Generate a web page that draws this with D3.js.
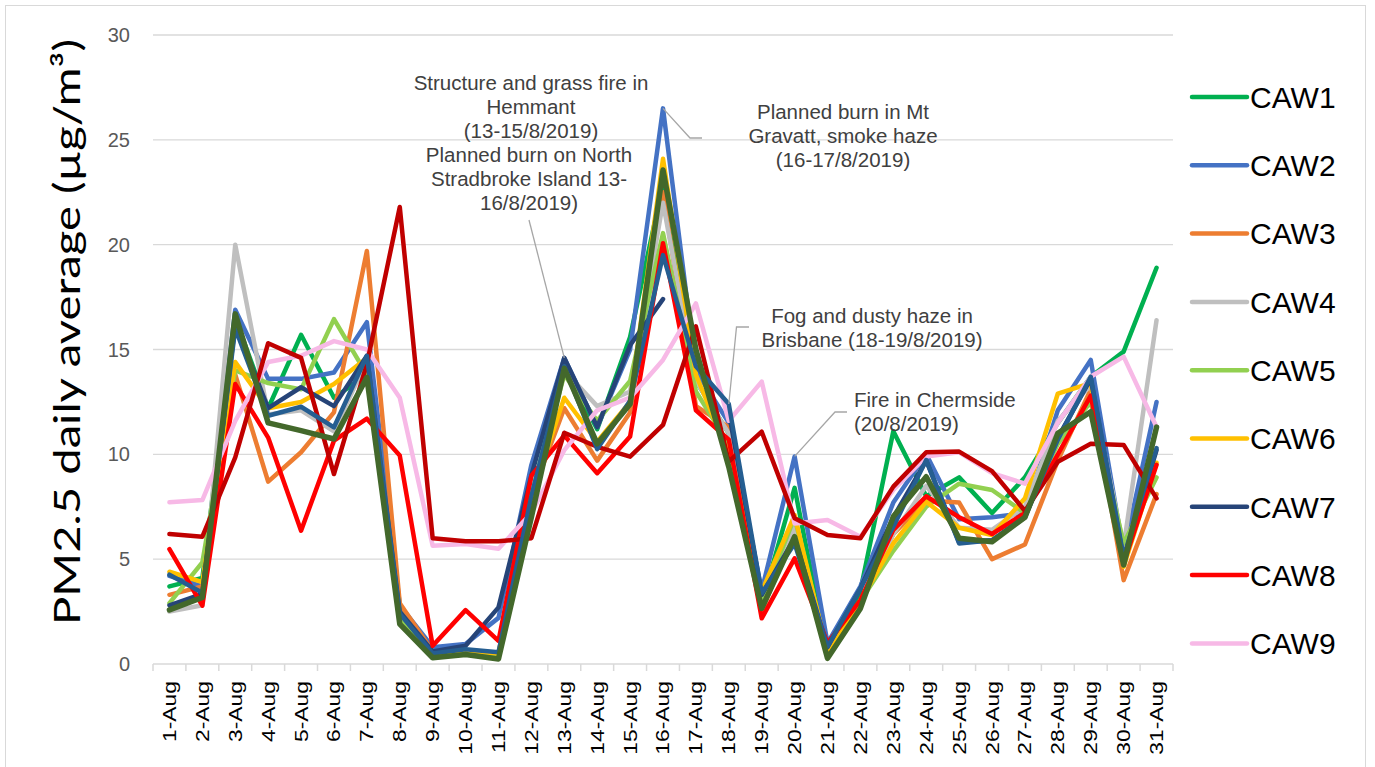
<!DOCTYPE html>
<html>
<head>
<meta charset="utf-8">
<script src="https://cdn.jsdelivr.net/npm/d3@7"></script>
<style>
  html, body { margin: 0; padding: 0; background: #fff; }
  svg { display: block; }
</style>
</head>
<body>
<svg id="chart" width="1375" height="767"></svg>
<script>
// ---------------- DATA ----------------
const days = ["1-Aug","2-Aug","3-Aug","4-Aug","5-Aug","6-Aug","7-Aug","8-Aug","9-Aug","10-Aug",
  "11-Aug","12-Aug","13-Aug","14-Aug","15-Aug","16-Aug","17-Aug","18-Aug","19-Aug","20-Aug",
  "21-Aug","22-Aug","23-Aug","24-Aug","25-Aug","26-Aug","27-Aug","28-Aug","29-Aug","30-Aug","31-Aug"];

const yTicks = [0, 5, 10, 15, 20, 25, 30];

const seriesNames = ["CAW1","CAW2","CAW3","CAW4","CAW5","CAW6","CAW7","CAW8","CAW9","CAW10","CAW11","CAW12"];
const legendNames = ["CAW1","CAW2","CAW3","CAW4","CAW5","CAW6","CAW7","CAW8","CAW9"];

const CAW1 = [3.7,4.1,16.5,12.2,15.7,12.7,13.8,2.0,0.4,0.5,0.4,8.0,14.2,11.2,15.6,22.9,13.5,11.0,2.9,8.4,0.4,3.5,11.1,8.0,8.9,7.2,8.9,11.5,13.7,14.9,18.9];
const CAW2 = [4.2,3.7,16.9,13.6,13.6,13.9,16.3,2.8,0.8,0.95,2.2,9.5,14.6,11.3,15.0,26.5,14.0,11.5,3.5,9.9,1.0,3.7,7.7,10.0,6.9,7.0,7.2,12.1,14.5,5.3,12.5];
const CAW3 = [3.3,3.7,13.8,8.7,10.1,12.0,19.7,2.9,0.6,0.5,0.5,8.0,12.2,9.7,12.0,22.5,12.3,11.3,2.5,6.5,0.6,3.0,6.2,7.8,7.7,5.0,5.7,9.7,13.1,4.0,8.1];
const CAW4 = [2.5,2.8,20.0,11.9,12.1,11.1,14.5,2.2,0.4,0.5,0.4,8.0,14.0,12.3,13.0,22.0,13.5,11.0,3.0,6.5,0.4,3.0,6.2,8.5,6.5,6.4,7.5,11.6,13.3,5.6,16.4];
const CAW5 = [2.9,4.85,14.0,13.4,13.1,16.45,13.8,2.1,0.4,0.5,0.4,8.0,13.8,11.6,13.5,20.55,13.0,10.5,3.0,7.0,0.5,3.0,5.4,7.5,8.6,8.3,7.2,10.5,12.5,5.75,8.9];
const CAW6 = [4.4,3.9,14.4,12.2,12.5,13.35,14.6,2.5,0.5,0.64,0.5,8.0,12.7,10.6,12.5,24.1,13.8,10.0,3.45,7.1,0.5,3.0,5.75,7.74,6.5,6.15,7.9,12.9,13.4,4.64,9.6];
const CAW7 = [2.8,3.34,16.2,12.2,13.2,12.3,14.7,2.5,0.6,0.87,2.7,9.0,14.6,11.3,15.2,17.4,null,12.0,3.3,6.0,0.8,3.6,7.0,9.7,5.8,5.9,7.0,10.8,13.6,5.0,10.2];
const CAW8 = [5.48,2.78,13.35,10.8,6.36,10.65,11.7,9.94,0.87,2.57,1.1,8.98,10.9,9.1,10.85,20.07,12.1,10.7,2.18,5.04,1.0,3.05,6.4,8.0,7.0,6.2,7.2,10.0,12.8,4.8,9.5];
const CAW9 = [7.71,7.82,11.6,14.4,14.7,15.4,15.0,12.7,5.64,5.72,5.5,7.2,10.2,12.1,12.7,14.5,17.2,11.6,13.47,6.7,6.87,6.07,8.3,9.9,10.1,9.1,8.6,11.5,13.7,14.66,11.3];
const CAW10 = [6.2,6.07,9.85,15.3,14.6,9.06,14.3,21.8,6.0,5.85,5.85,6.0,11.03,10.36,9.89,11.4,16.1,9.65,11.08,6.95,6.15,6.0,8.46,10.1,10.13,9.2,7.3,9.65,10.5,10.45,7.9];
const CAW11 = [4.26,3.4,16.0,11.84,12.27,11.29,14.7,2.4,0.5,0.7,0.56,8.0,14.2,10.25,12.56,19.5,14.2,12.4,3.37,5.75,0.83,3.6,6.55,9.73,5.75,5.9,7.0,10.7,13.7,5.1,10.3];
const CAW12 = [2.58,3.18,16.7,11.5,11.13,10.73,13.67,1.9,0.3,0.45,0.24,7.0,14.1,10.5,12.4,23.56,15.0,9.4,2.65,6.07,0.27,2.65,7.03,8.93,6.0,5.83,7.0,11.0,12.03,4.72,11.3];

const seriesValues = [CAW1,CAW2,CAW3,CAW4,CAW5,CAW6,CAW7,CAW8,CAW9,CAW10,CAW11,CAW12];
const seriesColors = ["#00B050","#4472C4","#ED7D31","#BFBFBF","#92D050","#FFC000","#264478","#FF0000","#F7B9E6","#C00000","#255E91","#43682B"];

const annotations = [
  {lines:["Structure and grass fire in","Hemmant","(13-15/8/2019)"], x:531, y:90, anchor:"middle"},
  {lines:["Planned burn on North","Stradbroke Island 13-","16/8/2019)"], x:529, y:161.5, anchor:"middle"},
  {lines:["Planned burn in Mt","Gravatt, smoke haze","(16-17/8/2019)"], x:843, y:119, anchor:"middle"},
  {lines:["Fog and dusty haze in","Brisbane (18-19/8/2019)"], x:872, y:323, anchor:"middle"},
  {lines:["Fire in Chermside","(20/8/2019)"], x:854, y:407, anchor:"start"}
];

// ---------------- CHART ----------------
const svg = d3.select("#chart");
const L = 153, R = 1173, T = 35, B = 664;

svg.append("rect").attr("x",0).attr("y",0).attr("width",1375).attr("height",767).attr("fill","#fff");
svg.append("rect").attr("x",5.5).attr("y",5.5).attr("width",1360).attr("height",800)
  .attr("fill","none").attr("stroke","#D9D9D9").attr("stroke-width",1);

const xBand = d3.scaleBand().domain(days).range([L, R]);
const x = d3.scalePoint().domain(days).range([L, R]).padding(0.5);
const y = d3.scaleLinear().domain([0, 30]).range([B, T]);

// gridlines
svg.append("g").selectAll("line").data(yTicks.filter(d => d > 0)).join("line")
  .attr("x1", L).attr("x2", R).attr("y1", d => y(d)).attr("y2", d => y(d))
  .attr("stroke", "#D9D9D9").attr("stroke-width", 1.3);

// x axis line + ticks at category boundaries
svg.append("line").attr("x1", L).attr("x2", R).attr("y1", y(0)).attr("y2", y(0))
  .attr("stroke", "#D9D9D9").attr("stroke-width", 1.5);
const boundaries = days.map(d => xBand(d)).concat([R]);
svg.append("g").selectAll("line").data(boundaries).join("line")
  .attr("x1", d => d).attr("x2", d => d).attr("y1", y(0)).attr("y2", y(0) + 7)
  .attr("stroke", "#D9D9D9").attr("stroke-width", 1.5);

// y tick labels
svg.append("g").selectAll("text").data(yTicks).join("text")
  .attr("x", 130).attr("y", d => y(d)).attr("dy", "0.35em")
  .attr("text-anchor", "end")
  .attr("font-family", "Liberation Sans, Arial, sans-serif")
  .attr("font-size", 20).attr("fill", "#595959")
  .text(d => d);

// x tick labels
svg.append("g").selectAll("text").data(days).join("text")
  .attr("transform", d => `translate(${x(d)},681) rotate(-90) scale(1.27,1)`)
  .attr("dy", "0.36em")
  .attr("text-anchor", "end")
  .attr("font-family", "Liberation Sans, Arial, sans-serif")
  .attr("font-size", 18).attr("fill", "#000")
  .text(d => d);

// y axis title
svg.append("text")
  .attr("transform", "translate(80,332) rotate(-90)")
  .attr("text-anchor", "middle")
  .attr("font-family", "Lato, Open Sans, sans-serif")
  .attr("font-size", 36).attr("fill", "#000")
  .attr("textLength", 586).attr("lengthAdjust", "spacingAndGlyphs")
  .text("PM2.5 daily average (µg/m³)");

// lines
const line = d3.line()
  .defined(v => v !== null)
  .x((v, i) => x(days[i]))
  .y(v => y(v));

svg.append("g").selectAll("path").data(seriesValues).join("path")
  .attr("d", vals => line(vals))
  .attr("fill", "none")
  .attr("stroke", (v, i) => seriesColors[i])
  .attr("stroke-width", (v, i) => i === 11 ? 5.5 : 4.5)
  .attr("stroke-linejoin", "round")
  .attr("stroke-linecap", "round");

// leader lines (start anchored at data points)
const leaders = [
  [[x("16-Aug"), y(CAW2[15])], [690, 138], [702, 138]],
  [[529, 220], [x("13-Aug"), y(CAW7[12])]],
  [[x("18-Aug"), y(CAW11[17])], [736.5, 327], [749, 327]],
  [[x("20-Aug"), y(CAW2[19])], [835, 412], [847, 412]]
];
svg.append("g").selectAll("path").data(leaders).join("path")
  .attr("d", d => d3.line()(d))
  .attr("fill", "none").attr("stroke", "#A6A6A6").attr("stroke-width", 1.3);

// annotation texts
const ag = svg.append("g")
  .attr("font-family", "Liberation Sans, Arial, sans-serif")
  .attr("font-size", 20.5).attr("fill", "#404040");
annotations.forEach(a => {
  const t = ag.append("text").attr("text-anchor", a.anchor);
  a.lines.forEach((ln, i) => {
    t.append("tspan").attr("x", a.x).attr("y", a.y + i * 24).text(ln);
  });
});

// legend
const lg = svg.append("g");
legendNames.forEach((name, i) => {
  const yy = 97 + i * 68.3;
  lg.append("line").attr("x1", 1192).attr("x2", 1247).attr("y1", yy).attr("y2", yy)
    .attr("stroke", seriesColors[i]).attr("stroke-width", 4.5).attr("stroke-linecap", "round");
  lg.append("text").attr("x", 1250).attr("y", yy).attr("dy", "0.36em")
    .attr("font-family", "Liberation Sans, Arial, sans-serif")
    .attr("font-size", 30).attr("fill", "#000").text(name);
});
</script>
</body>
</html>
